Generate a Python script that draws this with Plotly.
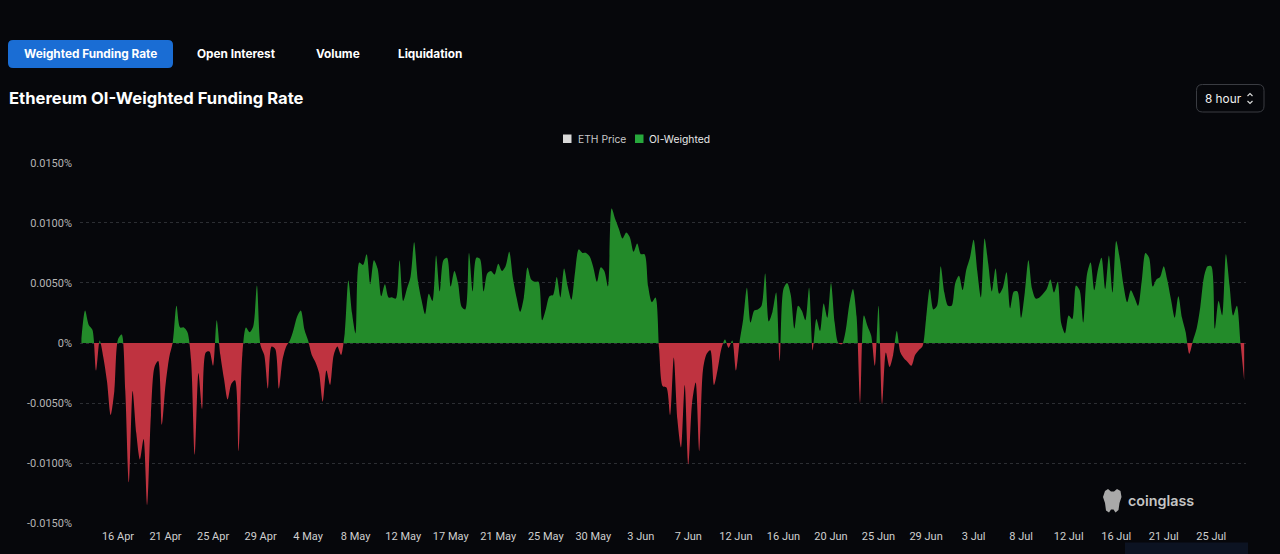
import pandas as pd
import plotly.graph_objects as go

# ---------------- data (OI-weighted funding rate, %, every 8 hours) ----------------
start_time = "2024-04-13 08:00"
rates = [
    0.0004, 0.0027, 0.0015, 0.0011, -0.0023, 0.0002, -0.0012, -0.0032, -0.0060, -0.0040,
    0.0003, 0.0007, -0.0040, -0.0116, -0.0040, -0.0075, -0.0097, -0.0080, -0.0135, -0.0060,
    -0.0020, -0.0015, -0.0068, -0.0035, -0.0012, 0.0001, 0.0031, 0.0013, 0.0013, 0.0009,
    -0.0015, -0.0093, -0.0025, -0.0055, -0.0008, -0.0007, -0.0019, 0.0019, -0.0010, -0.0030,
    -0.0047, -0.0034, -0.0031, -0.0090, -0.0010, 0.0013, 0.0009, 0.0014, 0.0048, -0.0002,
    -0.0010, -0.0038, -0.0003, -0.0005, -0.0038, -0.0014, -0.0003, 0.0002, 0.0011, 0.0022,
    0.0027, 0.0011, 0.0002, -0.0010, -0.0016, -0.0025, -0.0049, -0.0023, -0.0035, -0.0010,
    -0.0003, -0.0010, 0.0008, 0.0052, 0.0025, 0.0008, 0.0067, 0.0065, 0.0074, 0.0049,
    0.0069, 0.0062, 0.0039, 0.0049, 0.0038, 0.0038, 0.0037, 0.0069, 0.0035, 0.0045,
    0.0055, 0.0084, 0.0052, 0.0036, 0.0024, 0.0041, 0.0035, 0.0073, 0.0043, 0.0069,
    0.0071, 0.0047, 0.0060, 0.0050, 0.0030, 0.0028, 0.0075, 0.0043, 0.0071, 0.0070,
    0.0043, 0.0058, 0.0060, 0.0057, 0.0066, 0.0060, 0.0064, 0.0076, 0.0054, 0.0038,
    0.0026, 0.0038, 0.0063, 0.0053, 0.0051, 0.0051, 0.0019, 0.0028, 0.0039, 0.0040,
    0.0055, 0.0038, 0.0062, 0.0047, 0.0036, 0.0059, 0.0078, 0.0075, 0.0075, 0.0072,
    0.0063, 0.0051, 0.0063, 0.0060, 0.0047, 0.0112, 0.0103, 0.0095, 0.0087, 0.0092,
    0.0088, 0.0076, 0.0083, 0.0074, 0.0074, 0.0047, 0.0034, 0.0038, -0.0005, -0.0036,
    -0.0037, -0.0060, -0.0012, -0.0064, -0.0087, -0.0035, -0.0101, -0.0050, -0.0033, -0.0090,
    -0.0022, -0.0009, -0.0006, -0.0035, -0.0022, -0.0005, 0.0003, -0.0004, 0.0002, -0.0023,
    0.0001, 0.0020, 0.0046, 0.0017, 0.0027, 0.0028, 0.0031, 0.0058, 0.0018, 0.0026,
    0.0042, -0.0015, 0.0045, 0.0050, 0.0040, 0.0012, 0.0031, 0.0027, 0.0019, 0.0046,
    -0.0006, 0.0020, 0.0010, 0.0033, 0.0021, 0.0050, 0.0017, 0.0000, -0.0001, 0.0010,
    0.0032, 0.0045, 0.0022, -0.0050, 0.0023, 0.0014, 0.0006, -0.0019, 0.0031, -0.0051,
    -0.0008, -0.0020, -0.0010, 0.0010, -0.0008, -0.0013, -0.0016, -0.0019, -0.0010, -0.0006,
    -0.0003, 0.0020, 0.0045, 0.0028, 0.0031, 0.0064, 0.0042, 0.0031, 0.0031, 0.0050,
    0.0056, 0.0044, 0.0061, 0.0071, 0.0086, 0.0060, 0.0038, 0.0087, 0.0066, 0.0043,
    0.0062, 0.0041, 0.0046, 0.0059, 0.0029, 0.0043, 0.0043, 0.0021, 0.0042, 0.0069,
    0.0045, 0.0037, 0.0038, 0.0041, 0.0045, 0.0053, 0.0042, 0.0051, 0.0016, 0.0008,
    0.0023, 0.0020, 0.0048, 0.0044, 0.0017, 0.0057, 0.0067, 0.0044, 0.0061, 0.0071,
    0.0045, 0.0073, 0.0042, 0.0085, 0.0070, 0.0048, 0.0034, 0.0044, 0.0038, 0.0031,
    0.0052, 0.0075, 0.0071, 0.0047, 0.0053, 0.0055, 0.0064, 0.0052, 0.0036, 0.0021,
    0.0039, 0.0021, 0.0009, -0.0009, 0.0002, 0.0012, 0.0030, 0.0055, 0.0064, 0.0064,
    0.0012, 0.0035, 0.0023, 0.0074, 0.0048, 0.0023, 0.0031, 0.0000, -0.0031,
]
x_tick_labels = ["16 Apr", "21 Apr", "25 Apr", "29 Apr", "4 May", "8 May", "12 May", "17 May",
                 "21 May", "25 May", "30 May", "3 Jun", "7 Jun", "12 Jun", "16 Jun", "20 Jun",
                 "25 Jun", "29 Jun", "3 Jul", "8 Jul", "12 Jul", "16 Jul", "21 Jul", "25 Jul"]
y_tick_vals = [-0.015, -0.010, -0.005, 0.0, 0.005, 0.010, 0.015]
y_tick_labels = ["-0.0150%", "-0.0100%", "-0.0050%", "0%", "0.0050%", "0.0100%", "0.0150%"]
tabs = ["Weighted Funding Rate", "Open Interest", "Volume", "Liquidation"]
legend_names = ["ETH Price", "OI-Weighted"]

# ---------------- styling ----------------
W, H = 1280, 554
ML, MR, MT, MB = 80, 34, 162, 30
BG = "#06070b"
GREEN = "#238b2a"
RED = "#bf3340"
FONT = "Inter, Roboto, Noto Sans, sans-serif"

times = pd.date_range(start_time, periods=len(rates), freq="8h")
step = pd.Timedelta(hours=8)
tick_idx = [10 + 13 * k for k in range(len(x_tick_labels))]
tick_vals = [times[i] for i in tick_idx]

pw, ph = W - ML - MR, H - MT - MB


def px(x):
    return (x - ML) / pw


def py(y):
    return (H - MB - y) / ph


def rrect(x0, y0, x1, y1, r):
    pts = [
        f"M {px(x0 + r)},{py(y0)}", f"L {px(x1 - r)},{py(y0)}",
        f"Q {px(x1)},{py(y0)} {px(x1)},{py(y0 + r)}", f"L {px(x1)},{py(y1 - r)}",
        f"Q {px(x1)},{py(y1)} {px(x1 - r)},{py(y1)}", f"L {px(x0 + r)},{py(y1)}",
        f"Q {px(x0)},{py(y1)} {px(x0)},{py(y1 - r)}", f"L {px(x0)},{py(y0 + r)}",
        f"Q {px(x0)},{py(y0)} {px(x0 + r)},{py(y0)}", "Z",
    ]
    return " ".join(pts)


def poly(points, close=True):
    s = "M " + " L ".join(f"{px(a)},{py(b)}" for a, b in points)
    return s + (" Z" if close else "")


fig = go.Figure()
fig.add_trace(go.Scatter(
    x=times, y=rates, mode="lines",
    line=dict(shape="spline", smoothing=0.8, width=0, color="rgba(0,0,0,0)"),
    fill="tozeroy",
    fillgradient=dict(type="vertical",
                      colorscale=[[0, RED], [0.5, RED], [0.5, GREEN], [1, GREEN]],
                      start=-0.0151, stop=0.0151),
    hoverinfo="skip", showlegend=False,
))

shapes = []
annotations = []

# tabs
shapes.append(dict(type="path", xref="paper", yref="paper", path=rrect(8, 40, 173, 68, 5),
                   fillcolor="#1a6dd4", line=dict(width=0), layer="above"))
tab_centers = [90.5, 236.5, 337.5, 430]
for t, cx in zip(tabs, tab_centers):
    annotations.append(dict(text=t, x=px(cx), y=py(54), xref="paper", yref="paper",
                            xanchor="center", yanchor="middle", showarrow=False,
                            font=dict(family=FONT, size=11.8, color="#ffffff", weight=700)))

# title
annotations.append(dict(text="Ethereum OI-Weighted Funding Rate", x=px(7), y=py(98),
                        xref="paper", yref="paper", xanchor="left", yanchor="middle",
                        showarrow=False,
                        font=dict(family=FONT, size=16.6, color="#ffffff", weight=700)))

# interval selector
shapes.append(dict(type="path", xref="paper", yref="paper", path=rrect(1196.5, 84.5, 1264, 112, 6),
                   fillcolor=BG, line=dict(width=1, color="#3a3c42")))
annotations.append(dict(text="8 hour", x=px(1203), y=py(98.5), xref="paper", yref="paper",
                        xanchor="left", yanchor="middle", showarrow=False,
                        font=dict(family=FONT, size=11.8, color="#f0f0f0")))
shapes.append(dict(type="path", xref="paper", yref="paper",
                   path=poly([(1247.5, 96), (1250, 93.5), (1252.5, 96)], close=False),
                   line=dict(width=1.2, color="#d8d8d8")))
shapes.append(dict(type="path", xref="paper", yref="paper",
                   path=poly([(1247.5, 101), (1250, 103.5), (1252.5, 101)], close=False),
                   line=dict(width=1.2, color="#d8d8d8")))

# legend
leg_items = [(563, "#d9d9d9", 577, "#c8c8c8"), (635, "#27a83c", 648, "#e8e8e8")]
for name, (sx, scol, tx, tcol) in zip(legend_names, leg_items):
    shapes.append(dict(type="rect", xref="paper", yref="paper",
                       x0=px(sx), x1=px(sx + 8.5), y0=py(134.5), y1=py(143),
                       fillcolor=scol, line=dict(width=0)))
    annotations.append(dict(text=name, x=px(tx - 1), y=py(139), xref="paper", yref="paper",
                            xanchor="left", yanchor="middle", showarrow=False,
                            font=dict(family=FONT, size=10.3, color=tcol)))

# watermark
shapes.append(dict(type="path", xref="paper", yref="paper",
                   path=poly([(1105, 491), (1108, 489), (1111, 491.5), (1114, 491.5), (1117, 489),
                              (1120.5, 491), (1121.5, 497), (1119.5, 503), (1118.5, 510),
                              (1115.5, 512.5), (1113.5, 509.5), (1111, 509.5), (1109, 512.5),
                              (1106, 510.5), (1105, 503), (1103, 497)]),
                   fillcolor="#a9a9a9", line=dict(width=0)))
annotations.append(dict(text="coinglass", x=px(1126), y=py(500.5), xref="paper", yref="paper",
                        xanchor="left", yanchor="middle", showarrow=False,
                        font=dict(family=FONT, size=14.3, color="#c4c4c4", weight=600)))

# bottom-right panel edge
shapes.append(dict(type="rect", xref="paper", yref="paper",
                   x0=px(1125), x1=px(1248), y0=py(554), y1=py(542.5),
                   fillcolor="#0c1322", line=dict(width=0), layer="below"))

fig.update_layout(
    width=W, height=H,
    margin=dict(l=ML, r=MR, t=MT, b=MB, pad=0),
    paper_bgcolor=BG, plot_bgcolor=BG,
    font=dict(family=FONT, color="#c8c8c8"),
    showlegend=False,
    shapes=shapes, annotations=annotations,
    xaxis=dict(
        type="date",
        range=[times[0] - step * 0.39, times[0] + step * 318.5],
        tickmode="array", tickvals=tick_vals, ticktext=x_tick_labels,
        showgrid=False, zeroline=False, showline=False, ticks="",
        ticklabelstandoff=4,
        tickfont=dict(family="Roboto, sans-serif", size=11, color="#cfcfcf"),
        fixedrange=True,
    ),
    yaxis=dict(
        range=[-0.01508, 0.01508],
        tickmode="array", tickvals=y_tick_vals, ticktext=y_tick_labels,
        showgrid=True, gridcolor="#2c2e33", gridwidth=1, griddash="3px,3px",
        zeroline=False, showline=False, ticks="",
        ticklabelstandoff=7,
        tickfont=dict(family="Roboto, sans-serif", size=11, color="#b5b5b5"),
        fixedrange=True,
    ),
)

fig.write_html("out.html")
